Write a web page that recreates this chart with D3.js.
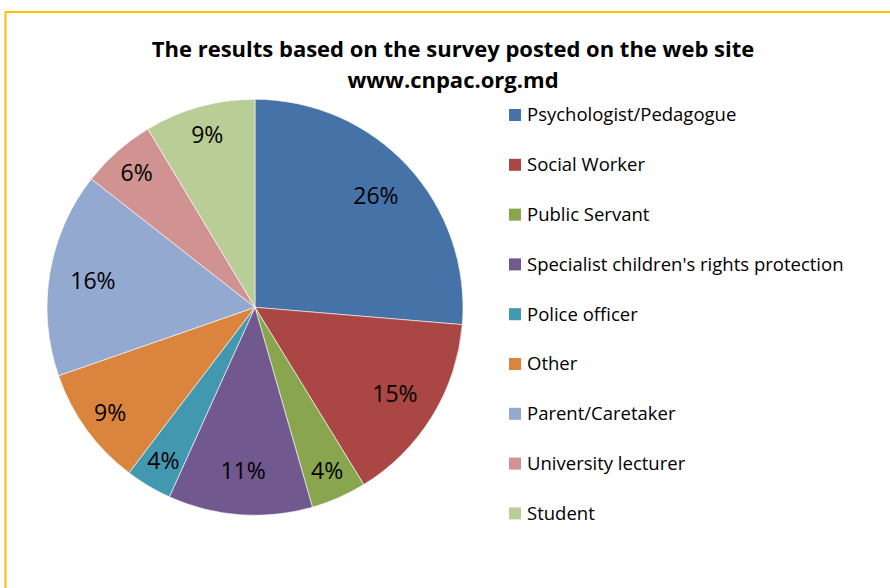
<!DOCTYPE html>
<html><head><meta charset="utf-8">
<script src="https://cdn.jsdelivr.net/npm/d3@7"></script>
<style>html,body{margin:0;padding:0;background:#fff;}svg{display:block;}</style>
</head><body>
<svg id="chart" width="890" height="588"></svg>
<script>
const categories = ["Psychologist/Pedagogue","Social Worker","Public Servant","Specialist children's rights protection","Police officer","Other","Parent/Caretaker","University lecturer","Student"];
const values = [26.3, 14.9, 4.3, 11.2, 3.6, 9.3, 15.9, 5.8, 8.6];
const colors = ["#4572A7","#AA4643","#89A54E","#71588F","#4198AF","#DB843D","#93A9CF","#D19392","#B9CD96"];
const titleLines = ["The results based on the survey posted on the web site","www.cnpac.org.md"];

const svg = d3.select("#chart");
const W = 890, H = 588;
const font = "'Open Sans', sans-serif";

// border
svg.append("rect").attr("x", 5.5).attr("y", 12).attr("width", W + 20).attr("height", H + 20)
  .attr("fill", "#fff").attr("stroke", "#FFC000").attr("stroke-width", 2);

// title
svg.append("g").selectAll("text").data(titleLines).join("text")
  .attr("x", 453).attr("y", (d, i) => 57 + i * 31)
  .attr("text-anchor", "middle").attr("font-family", font).attr("font-weight", "bold")
  .attr("font-size", 22).attr("fill", "#000").text(d => d);

const cx = 255, cy = 307.3, r = 208;
const total = d3.sum(values);
const pie = d3.pie().value(d => d).sort(null)(values);
const arc = d3.arc().innerRadius(0).outerRadius(r);
const g = svg.append("g").attr("transform", `translate(${cx},${cy})`);
g.selectAll("path").data(pie).join("path")
  .attr("d", arc).attr("fill", (d, i) => colors[i])
  .attr("stroke", "#fff").attr("stroke-width", 0.6);

const fmt = v => Math.round(v / total * 100) + "%";
g.selectAll("text").data(pie).join("text")
  .attr("transform", d => {
    const lbl = fmt(d.data);
    const rr = lbl.length > 2 ? r * 0.79 : r * 0.86;
    const a = (d.startAngle + d.endAngle) / 2;
    return `translate(${Math.sin(a) * rr},${-Math.cos(a) * rr})`;
  })
  .attr("text-anchor", "middle").attr("dy", "0.36em")
  .attr("font-family", font).attr("font-size", 23).attr("fill", "#000")
  .text(d => fmt(d.data));

// legend
const legend = svg.append("g").selectAll("g").data(categories).join("g")
  .attr("transform", (d, i) => `translate(509,${115 + i * 49.8})`);
legend.append("rect").attr("x", 0).attr("y", -6).attr("width", 12).attr("height", 12)
  .attr("fill", (d, i) => colors[i]);
legend.append("text").attr("x", 18).attr("y", 0).attr("dy", "0.35em")
  .attr("font-family", font).attr("font-size", 18.5).attr("fill", "#000").text(d => d);
</script>
</body></html>
